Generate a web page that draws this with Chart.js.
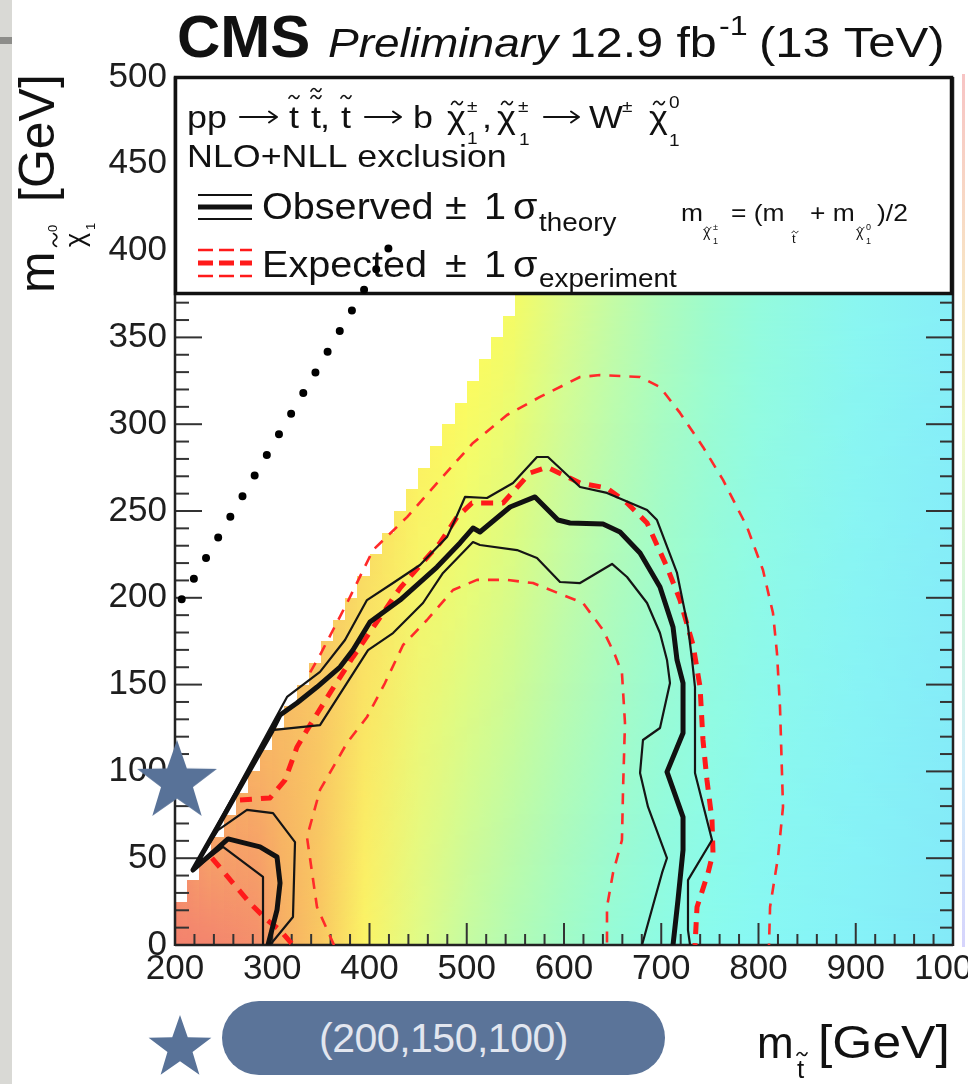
<!DOCTYPE html>
<html>
<head>
<meta charset="utf-8">
<script src="https://cdn.jsdelivr.net/npm/chart.js@4.4.1/dist/chart.umd.min.js"></script>
<style>
html,body{margin:0;padding:0;background:#fff;width:968px;height:1084px;overflow:hidden;position:relative;font-family:"Liberation Sans",Arial,sans-serif}
#c{position:absolute;left:0;top:0}
#strip{position:absolute;left:0;top:0;width:12px;height:1084px;background:#d9d9d5}
#bar{position:absolute;left:0;top:37px;width:12px;height:7px;background:#8d8d8a}
#pill{position:absolute;left:222px;top:1001px;width:443px;height:74px;border-radius:37px;background:#5b7499;color:#e2e6ef;font-size:41px;line-height:74px;text-align:center;letter-spacing:-0.5px}
#star2{position:absolute;left:146px;top:1013px}
</style>
</head>
<body>
<div id="strip"></div><div id="bar"></div>
<canvas id="c" width="968" height="1084"></canvas>
<div id="pill">(200,150,100)</div>
<svg id="star2" width="68" height="68"><polygon id="star2p" fill="#587298"/></svg>
<script>
// ---------------- data (GeV) ----------------
const mtTicks   = [200, 300, 400, 500, 600, 700, 800, 900, 1000];
const mchiTicks = [0, 50, 100, 150, 200, 250, 300, 350, 400, 450, 500];

// staircase edge of the coloured (limit) region: column left edge and column top
const stepLeft = [200, 212.5, 225, 237.5, 250, 262.5, 275, 287.5, 300, 312.5, 325, 337.5, 350, 362.5, 375, 387.5, 400, 412.5, 425, 437.5, 450, 462.5, 475, 487.5, 500, 512.5, 525, 537.5, 550];
const stepTop  = [25, 37.5, 50, 62.5, 75, 87.5, 100, 112.5, 125, 137.5, 150, 162.5, 175, 187.5, 200, 212.5, 225, 237.5, 250, 262.5, 275, 287.5, 300, 312.5, 325, 337.5, 350, 362.5, 500];

// colour of the limit map along m_stop, at m_chi = 0 and along the upper edge
const heatMt   = [200, 240, 285, 310, 350, 395, 450, 500, 550, 600, 650, 700, 750, 800, 900, 1000];
const heatLow  = ['#f4826e','#f4866e','#f5906c','#f7ae64','#f9c862','#fbf466','#e0fb88','#c6fba2','#b2fbb6','#a2fbc8','#96fbd8','#8efbe4','#8afbee','#88f8f4','#86f2f8','#84eaf8'];
const heatEdge = ['#f4886e','#f6a468','#f7b264','#f7ba64','#f8c864','#f9dc64','#fbf262','#fbfb60','#f4fb66','#dcfb8a','#c4fba4','#aefbba','#9efbcc','#94fbdc','#8af6f0','#86eef8'];
const edgeLevel = 375;   // m_chi level where upper-edge colours were read (legend floor)

// observed contour (thick)
const obsMt   = [295.6, 304.9, 308.0, 304.9, 287.4, 254.5, 218.5, 299.7, 308.0, 325.4, 346.0, 369.7, 383.0, 400.5, 431.4, 469.4, 493.1, 506.4, 513.6, 544.5, 570.2, 593.8, 606.2, 640.1, 657.6, 678.2, 698.7, 712.1, 716.2, 722.4, 722.4, 705.9, 722.4, 722.4, 717.2, 712.1];
const obsMchi = [0, 20.2, 35.7, 50.7, 56.5, 61.1, 43.2, 123.3, 132.5, 139.4, 148.6, 160.1, 169.9, 186.1, 198.7, 217.7, 231.6, 240.2, 237.9, 252.3, 258.1, 244.8, 243.1, 242.5, 237.9, 225.8, 206.2, 183.2, 164.2, 150.9, 122.1, 99.7, 73.7, 54.7, 25.9, 0];
// observed -1 sigma theory
const obsLoMt   = [218.5, 299.7, 349.1, 398.5, 424.2, 455.0, 475.6, 506.4, 513.6, 551.7, 572.2, 595.9, 616.5, 649.4, 664.8, 685.4, 698.7, 705.9, 709.0, 698.7, 681.2, 678.2, 686.4, 705.9, 700.8, 680.2];
const obsLoMchi = [43.2, 123.8, 126.7, 169.9, 179.7, 197.0, 214.3, 232.1, 230.4, 227.5, 222.9, 209.1, 208.5, 219.5, 212.0, 197.0, 179.7, 164.2, 150.9, 125.0, 118.1, 99.1, 79.5, 50.1, 41.5, 0];
// observed +1 sigma theory
const obsHiMt   = [218.5, 315.2, 349.1, 374.8, 397.4, 424.2, 451.9, 479.7, 487.9, 498.2, 520.8, 547.6, 572.2, 583.5, 616.5, 644.2, 685.4, 695.6, 716.2, 727.5, 731.7, 734.7, 734.7, 752.2, 727.5, 727.5, 729.6];
const obsHiMchi = [43.2, 142.9, 157.3, 175.7, 198.7, 208.5, 218.9, 235.0, 244.8, 258.1, 257.5, 266.1, 281.1, 281.1, 263.8, 260.4, 250.6, 244.8, 214.3, 183.2, 164.2, 148.6, 99.1, 60.5, 37.4, 8.6, 0];
// low-mass observed islands (+/-1 sigma)
const islInMt    = [218.5, 249.4, 290.5, 290.5];
const islInMchi  = [43.2, 56.5, 39.2, 0];
const islOutMt   = [218.5, 244.2, 274.0, 300.8, 323.4, 321.3, 297.7];
const islOutMchi = [43.2, 66.2, 77.8, 76.0, 59.3, 16.1, 0];

// expected contour (thick dashed)
const expIslMt   = [238.0, 259.6, 277.1, 294.6, 308.0, 321.3];
const expIslMchi = [50.1, 35.7, 24.2, 14.4, 8.6, 0];
const expMt   = [266.8, 297.7, 313.1, 325.5, 335.7, 359.4, 383.0, 431.4, 472.5, 490.0, 505.4, 537.3, 565.1, 582.5, 616.5, 644.2, 664.8, 685.4, 705.9, 719.3, 732.7, 739.9, 742.9, 747.0, 752.2, 753.2, 748.1, 736.8, 734.7];
const expMchi = [83.5, 84.7, 95.0, 114.1, 123.8, 145.2, 165.9, 205.6, 231.6, 246.5, 254.6, 254.6, 271.9, 275.3, 266.1, 263.2, 254.6, 243.1, 217.7, 198.7, 172.8, 148.6, 118.1, 95.0, 72.0, 53.0, 41.5, 21.9, 0];
// expected +1 sigma experiment
const expHiMt   = [339.0, 350.0, 376.9, 403.6, 438.6, 469.4, 506.4, 541.4, 575.3, 616.5, 637.0, 678.2, 698.7, 719.3, 742.9, 763.5, 788.2, 804.6, 814.9, 819.0, 822.1, 825.2, 820.1, 811.9, 810.8];
const expHiMchi = [157.0, 168.0, 197.0, 227.5, 246.5, 266.1, 289.2, 305.3, 315.7, 327.2, 328.3, 327.2, 321.4, 306.5, 286.9, 267.9, 240.8, 216.0, 191.2, 168.2, 137.1, 79.5, 50.7, 21.9, 0];
// expected -1 sigma experiment
const expLoMt   = [363.5, 346.0, 335.7, 349.1, 376.9, 397.4, 415.9, 434.5, 459.1, 485.9, 510.5, 541.4, 568.1, 599.0, 619.5, 640.1, 652.4, 659.6, 662.7, 660.7, 659.6, 650.4, 644.2, 644.2];
const expLoMchi = [0, 21.9, 62.2, 89.3, 116.4, 131.3, 150.9, 172.8, 187.2, 204.5, 210.3, 210.3, 208.5, 201.6, 197.0, 181.5, 167.1, 156.7, 127.9, 89.3, 60.5, 41.5, 21.9, 0];

// annotations
const dotMt = [206.9, 420.4], dotMchi = [199.1, 402.1];
const starMt = [202], starMchi = [94];

// ---------------- helpers ----------------
const FONT = '"Liberation Sans", Arial, Helvetica, sans-serif';
const pts = (a, b) => a.map((v, i) => ({x: v, y: b[i]}));

function txt(ctx, s, x, y, size, opt = {}) {
  ctx.save();
  ctx.translate(x, y);
  ctx.scale(opt.sx ?? 1.12, 1);
  ctx.font = `${opt.style || ''} ${size}px ${FONT}`;
  ctx.fillStyle = opt.color || '#111';
  ctx.textAlign = 'left';
  ctx.textBaseline = 'alphabetic';
  ctx.fillText(s, 0, 0);
  ctx.restore();
}
function tilde(ctx, cx, cy, w, lw = 1.6) {
  ctx.save();
  ctx.strokeStyle = '#111'; ctx.lineWidth = lw; ctx.lineCap = 'round';
  ctx.beginPath();
  ctx.moveTo(cx - w / 2, cy + w * 0.12);
  ctx.bezierCurveTo(cx - w * 0.3, cy - w * 0.28, cx - w * 0.1, cy - w * 0.15, cx, cy);
  ctx.bezierCurveTo(cx + w * 0.1, cy + w * 0.15, cx + w * 0.3, cy + w * 0.28, cx + w / 2, cy - w * 0.12);
  ctx.stroke();
  ctx.restore();
}
function arrow(ctx, x, y, len) {
  ctx.save();
  ctx.strokeStyle = '#111'; ctx.lineWidth = 2; ctx.lineCap = 'round'; ctx.lineJoin = 'round';
  ctx.beginPath();
  ctx.moveTo(x, y); ctx.lineTo(x + len, y);
  ctx.moveTo(x + len - 8, y - 5.5); ctx.lineTo(x + len, y); ctx.lineTo(x + len - 8, y + 5.5);
  ctx.stroke();
  ctx.restore();
}
function starPoly(R, cx, cy) {
  const p = [];
  for (let k = 0; k < 10; k++) {
    const r = k % 2 ? R * 0.4 : R;
    const ang = -Math.PI / 2 + k * Math.PI / 5;
    p.push([cx + r * Math.cos(ang), cy + r * Math.sin(ang)]);
  }
  return p;
}
function starCanvas(R, color) {
  const s = Math.ceil(2 * R + 4);
  const c = document.createElement('canvas');
  c.width = c.height = s;
  const g = c.getContext('2d');
  g.beginPath();
  starPoly(R, s / 2, s / 2).forEach(([x, y], i) => i ? g.lineTo(x, y) : g.moveTo(x, y));
  g.closePath();
  g.fillStyle = color; g.fill();
  return c;
}
document.getElementById('star2p').setAttribute('points',
  starPoly(33, 34, 35).map(p => p.join(',')).join(' '));

// ---------------- drawing plugin ----------------
function stairs(c, x, y) {
  c.beginPath();
  const b = Math.round(y.getPixelForValue(0));
  for (let i = 0; i < stepLeft.length; i++) {
    const l = Math.round(x.getPixelForValue(stepLeft[i]));
    const r = Math.round(x.getPixelForValue(i + 1 < stepLeft.length ? stepLeft[i + 1] : 1000));
    const t = Math.round(y.getPixelForValue(stepTop[i]));
    c.rect(l, t, r - l, b - t);
  }
}
function hGrad(c, x, cols) {
  const p0 = x.getPixelForValue(200), p1 = x.getPixelForValue(1000);
  const g = c.createLinearGradient(p0, 0, p1, 0);
  heatMt.forEach((m, i) => g.addColorStop((x.getPixelForValue(m) - p0) / (p1 - p0), cols[i]));
  return g;
}
function drawHeat(chart) {
  const {ctx, chartArea: a, scales: {x, y}} = chart;
  ctx.save();
  ctx.beginPath(); ctx.rect(a.left, a.top, a.right - a.left, a.bottom - a.top); ctx.clip();
  ctx.fillStyle = hGrad(ctx, x, heatLow);
  stairs(ctx, x, y); ctx.fill();
  const off = document.createElement('canvas');
  off.width = chart.canvas.width; off.height = chart.canvas.height;
  const o = off.getContext('2d');
  o.fillStyle = hGrad(o, x, heatEdge);
  stairs(o, x, y); o.fill();
  const b = y.getPixelForValue(0);
  for (let i = 0; i < stepLeft.length; i++) {
    const l = Math.round(x.getPixelForValue(stepLeft[i]));
    const r = Math.round(x.getPixelForValue(i + 1 < stepLeft.length ? stepLeft[i + 1] : 1000));
    const t = y.getPixelForValue(Math.min(stepTop[i], edgeLevel));
    o.save();
    o.beginPath(); o.rect(l, 0, r - l, off.height); o.clip();
    o.globalCompositeOperation = 'destination-in';
    const g = o.createLinearGradient(0, b, 0, t);
    g.addColorStop(0, 'rgba(0,0,0,0)'); g.addColorStop(1, 'rgba(0,0,0,1)');
    o.fillStyle = g; o.fillRect(l, 0, r - l, off.height);
    o.restore();
  }
  ctx.drawImage(off, 0, 0);
  ctx.restore();
}
function drawFrame(chart) {
  const {ctx, chartArea: a, scales: {x, y}} = chart;
  ctx.save();
  ctx.strokeStyle = '#333'; ctx.lineWidth = 2;
  const seg = (x1, y1, x2, y2) => { ctx.beginPath(); ctx.moveTo(x1, y1); ctx.lineTo(x2, y2); ctx.stroke(); };
  const yv = y.ticks.map(t => t.value);
  yv.forEach((v, i) => {
    const p = y.getPixelForValue(v);
    seg(a.left, p, a.left + 27, p); seg(a.right, p, a.right - 27, p);
    if (i < yv.length - 1) for (let k = 1; k < 5; k++) {
      const q = y.getPixelForValue(v + k * (yv[i + 1] - v) / 5);
      seg(a.left, q, a.left + 14, q); seg(a.right, q, a.right - 13, q);
    }
  });
  const xv = x.ticks.map(t => t.value);
  xv.forEach((v, i) => {
    const p = x.getPixelForValue(v);
    seg(p, a.bottom, p, a.bottom - 22);
    if (i < xv.length - 1) for (let k = 1; k < 5; k++) {
      const q = x.getPixelForValue(v + k * (xv[i + 1] - v) / 5);
      seg(q, a.bottom, q, a.bottom - 11);
    }
  });
  ctx.strokeStyle = '#222'; ctx.lineWidth = 2.5;
  seg(a.left, a.top, a.left, a.bottom + 1);
  seg(a.left, a.bottom, a.right, a.bottom);
  seg(a.right, a.top, a.right, a.bottom + 1);
  ctx.restore();
}
function drawLegend(chart) {
  const {ctx, chartArea: a, scales: {y}} = chart;
  const L = a.left, T = a.top, R = a.right - 1, B = y.getPixelForValue(edgeLevel);
  const ox = L - 175, oy = T - 77;
  ctx.save();
  ctx.fillStyle = '#fff'; ctx.fillRect(L, T, R - L, B - T);
  ctx.lineWidth = 3.5; ctx.strokeStyle = '#111';
  ctx.strokeRect(L + 0.5, T + 0.5, R - L - 1, B - T - 1);
  // line 1 : process
  const b1 = 128 + oy, f1 = 32, ya = 117 + oy;
  txt(ctx, 'pp', 187 + ox, b1, f1);
  arrow(ctx, 240 + ox, ya, 37);
  txt(ctx, 't', 289 + ox, b1, f1); tilde(ctx, 294 + ox, 97 + oy, 10);
  txt(ctx, 't', 311 + ox, b1, f1); tilde(ctx, 316 + ox, 90 + oy, 10); tilde(ctx, 316 + ox, 97 + oy, 10);
  txt(ctx, ',', 320 + ox, b1, f1);
  txt(ctx, 't', 341 + ox, b1, f1); tilde(ctx, 346 + ox, 97 + oy, 10);
  arrow(ctx, 365 + ox, ya, 36);
  txt(ctx, 'b', 413 + ox, b1, f1);
  txt(ctx, '\u03c7', 447 + ox, b1, f1); tilde(ctx, 457 + ox, 103 + oy, 11);
  txt(ctx, '\u00b1', 467 + ox, 112 + oy, 17); txt(ctx, '1', 467 + ox, 144 + oy, 17);
  txt(ctx, ',', 482 + ox, b1, f1);
  txt(ctx, '\u03c7', 497 + ox, b1, f1); tilde(ctx, 507 + ox, 103 + oy, 11);
  txt(ctx, '\u00b1', 518 + ox, 112 + oy, 17); txt(ctx, '1', 519 + ox, 145 + oy, 17);
  arrow(ctx, 544 + ox, ya, 35);
  txt(ctx, 'W', 589 + ox, b1, f1);
  txt(ctx, '\u00b1', 622 + ox, 112 + oy, 17);
  txt(ctx, '\u03c7', 649 + ox, b1, f1); tilde(ctx, 659 + ox, 103 + oy, 11);
  txt(ctx, '0', 669 + ox, 108 + oy, 17); txt(ctx, '1', 669 + ox, 146 + oy, 17);
  // line 2
  txt(ctx, 'NLO+NLL exclusion', 187 + ox, 167 + oy, 32);
  // observed symbol
  ctx.strokeStyle = '#111'; ctx.lineCap = 'butt';
  [[195, 2.2], [207, 5], [219, 2.2]].forEach(([yy, w]) => {
    ctx.lineWidth = w; ctx.beginPath(); ctx.moveTo(198 + ox, yy + oy); ctx.lineTo(252 + ox, yy + oy); ctx.stroke();
  });
  txt(ctx, 'Observed', 262 + ox, 219 + oy, 37, {sx: 1.07});
  txt(ctx, '\u00b1', 445 + ox, 219 + oy, 37, {sx: 1.07});
  txt(ctx, '1', 484 + ox, 219 + oy, 37, {sx: 1.07});
  txt(ctx, '\u03c3', 513 + ox, 219 + oy, 37, {sx: 1.07});
  txt(ctx, 'theory', 539 + ox, 231 + oy, 26, {sx: 1.07});
  // mass relation
  const bm = 221 + oy;
  txt(ctx, 'm', 681 + ox, bm, 24, {sx: 1.1});
  txt(ctx, '\u03c7', 703 + ox, 237 + oy, 14, {sx: 1}); tilde(ctx, 708 + ox, 228 + oy, 6, 1);
  txt(ctx, '\u00b1', 713 + ox, 230 + oy, 9, {sx: 1}); txt(ctx, '1', 713 + ox, 244 + oy, 9, {sx: 1});
  txt(ctx, '= (m', 731 + ox, bm, 24, {sx: 1.1});
  txt(ctx, 't', 792 + ox, 243 + oy, 13, {sx: 1}); tilde(ctx, 795 + ox, 232 + oy, 6, 1);
  txt(ctx, '+ m', 810 + ox, bm, 24, {sx: 1.1});
  txt(ctx, '\u03c7', 856 + ox, 237 + oy, 14, {sx: 1}); tilde(ctx, 861 + ox, 228 + oy, 6, 1);
  txt(ctx, '0', 866 + ox, 230 + oy, 9, {sx: 1}); txt(ctx, '1', 866 + ox, 244 + oy, 9, {sx: 1});
  txt(ctx, ')/2', 877 + ox, bm, 24, {sx: 1.1});
  // expected symbol
  ctx.strokeStyle = '#ff1a1a'; ctx.setLineDash([15, 6]);
  [[250, 2.6], [263, 5], [276, 2.6]].forEach(([yy, w]) => {
    ctx.lineWidth = w; ctx.beginPath(); ctx.moveTo(198 + ox, yy + oy); ctx.lineTo(252 + ox, yy + oy); ctx.stroke();
  });
  ctx.setLineDash([]);
  txt(ctx, 'Expected', 262 + ox, 277 + oy, 37, {sx: 1.07});
  txt(ctx, '\u00b1', 445 + ox, 277 + oy, 37, {sx: 1.07});
  txt(ctx, '1', 484 + ox, 277 + oy, 37, {sx: 1.07});
  txt(ctx, '\u03c3', 513 + ox, 277 + oy, 37, {sx: 1.07});
  txt(ctx, 'experiment', 539 + ox, 287 + oy, 26, {sx: 1.07});
  ctx.restore();
}
function drawTexts(chart) {
  const {ctx} = chart;
  // title
  txt(ctx, 'CMS', 177, 57, 60, {style: 'bold', sx: 1.0});
  txt(ctx, 'Preliminary', 328, 57, 40, {style: 'italic', sx: 1.15});
  txt(ctx, '12.9 fb', 569, 57, 42, {sx: 1.15});
  txt(ctx, '-1', 719, 35, 28, {sx: 1.15});
  txt(ctx, '(13 TeV)', 759, 57, 42, {sx: 1.17});
  // y title
  ctx.save();
  ctx.translate(54, 293); ctx.rotate(-Math.PI / 2);
  txt(ctx, 'm', 0, 0, 50, {sx: 1});
  txt(ctx, '\u03c7', 46, 30, 27, {sx: 1});
  tilde(ctx, 53, 1, 13, 1.6);
  txt(ctx, '0', 61, 3, 13, {sx: 1});
  txt(ctx, '1', 63, 41, 13, {sx: 1});
  txt(ctx, '[GeV]', 91, 0, 50, {sx: 1});
  ctx.restore();
  // x title
  txt(ctx, 'm', 757, 1058, 44, {sx: 1});
  txt(ctx, 't', 797, 1078, 26, {sx: 1}); tilde(ctx, 802, 1054, 10, 1.6);
  txt(ctx, '[GeV]', 818, 1058, 46, {sx: 1.12});
  // palette strip at the right edge
  const g = ctx.createLinearGradient(0, 74, 0, 947);
  g.addColorStop(0, '#f7c4c4'); g.addColorStop(0.25, '#f8e6c4'); g.addColorStop(0.4, '#f4f8c8');
  g.addColorStop(0.6, '#d6f6dc'); g.addColorStop(0.8, '#d2eefa'); g.addColorStop(1, '#d6d4fc');
  ctx.fillStyle = g; ctx.fillRect(962, 74, 3, 873);
}
const rootStyle = {
  id: 'rootStyle',
  beforeDatasetsDraw(chart) { drawHeat(chart); drawFrame(chart); drawLegend(chart); },
  afterDraw(chart) { drawTexts(chart); }
};

// ---------------- chart ----------------
const line = (data, color, width, dash) => ({
  data, showLine: true, borderColor: color, borderWidth: width, borderDash: dash || [],
  pointRadius: 0, tension: 0, fill: false, borderJoinStyle: 'round'
});
const tickFont = {family: FONT, size: 35};
new Chart(document.getElementById('c'), {
  type: 'scatter',
  data: {
    datasets: [
      {data: pts(starMt, starMchi), showLine: false, pointStyle: starCanvas(42, '#587298'), pointRadius: 10, clip: false},
      {data: pts(dotMt, dotMchi), showLine: true, borderColor: '#000', borderWidth: 8, borderDash: [0, 23.95],
       borderCapStyle: 'round', pointRadius: 0, clip: false},
      line(pts(obsMt, obsMchi), '#111', 5),
      line(pts(obsLoMt, obsLoMchi), '#151515', 2.2),
      line(pts(obsHiMt, obsHiMchi), '#151515', 2.2),
      line(pts(islInMt, islInMchi), '#151515', 2.2),
      line(pts(islOutMt, islOutMchi), '#151515', 2.2),
      line(pts(expMt, expMchi), '#ff1a1a', 5, [12, 9]),
      line(pts(expIslMt, expIslMchi), '#ff1a1a', 5, [12, 9]),
      line(pts(expHiMt, expHiMchi), '#ff2a2a', 2.6, [11, 9]),
      line(pts(expLoMt, expLoMchi), '#ff2a2a', 2.6, [11, 9])
    ]
  },
  options: {
    responsive: false, animation: false, events: [],
    layout: {padding: {left: 0, right: 15, top: 77, bottom: 79}},
    plugins: {legend: {display: false}, tooltip: {enabled: false}},
    scales: {
      x: {
        type: 'linear', min: 200, max: 1000,
        afterBuildTicks: s => { s.ticks = mtTicks.map(v => ({value: v})); },
        afterFit: s => { s.height = 60; s.paddingLeft = 0; s.paddingRight = 0; },
        grid: {display: false, drawTicks: false}, border: {display: false},
        ticks: {font: tickFont, color: '#1e1e1e', padding: 3, autoSkip: false, maxRotation: 0,
                callback: v => String(v)}
      },
      y: {
        type: 'linear', min: 0, max: 500,
        afterBuildTicks: s => { s.ticks = mchiTicks.map(v => ({value: v})); },
        afterFit: s => { s.width = 175; s.paddingTop = 0; s.paddingBottom = 0; },
        grid: {display: false, drawTicks: false}, border: {display: false},
        ticks: {font: tickFont, color: '#1e1e1e', padding: 8, autoSkip: false,
                callback: v => String(v)}
      }
    }
  },
  plugins: [rootStyle]
});
</script>
</body>
</html>
